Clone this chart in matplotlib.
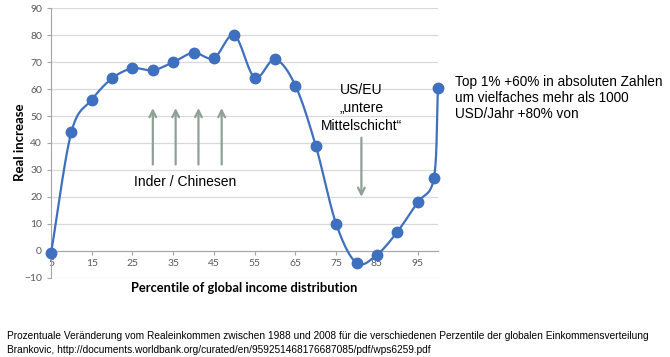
import numpy as np
import matplotlib
matplotlib.use("Agg")
import matplotlib.pyplot as plt

# percentile of global income distribution and real income increase (%)
percentiles = [5, 10, 15, 20, 25, 30, 35, 40, 45, 50, 55, 60, 65, 70, 75, 80, 85, 90, 95, 99, 100]
real_increase = [-1, 44, 56, 64, 67.7, 67, 70, 73.5, 71.5, 80, 64.3, 71, 61.3, 39, 10, -4.5, -1.5, 7, 18, 27, 60.3]

x_ticks = [5, 15, 25, 35, 45, 55, 65, 75, 85, 95]
y_ticks = list(range(-10, 100, 10))

# arrows for the annotations (x, y_start, y_end)
up_arrow_x = [30, 35.6, 41.2, 46.9]
up_arrow_y = (31, 54)
down_arrow_x = 81.2
down_arrow_y = (43, 19)

BLUE = '#3F6FBF'
ARROW = '#8FA195'
GRID = '#D9D9D9'
TICK = '#595959'


# Excel-style smoothed line (uniform Catmull-Rom between the data points)
def smoothLine(xs, ys, steps=30):
    pts = np.column_stack([xs, ys]).astype(float)
    # reflected end points -> straight-ish first and last segments
    pts = np.vstack([2 * pts[0] - pts[1], pts, 2 * pts[-1] - pts[-2]])
    out = []
    for i in range(1, len(pts) - 2):
        p0, p1, p2, p3 = pts[i - 1], pts[i], pts[i + 1], pts[i + 2]
        for t in np.linspace(0, 1, steps, endpoint=False):
            t2 = t * t
            t3 = t2 * t
            out.append(0.5 * ((2 * p1) + (-p0 + p2) * t
                              + (2 * p0 - 5 * p1 + 4 * p2 - p3) * t2
                              + (-p0 + 3 * p1 - 3 * p2 + p3) * t3))
    out.append(pts[-2])
    out = np.array(out)
    return out[:, 0], out[:, 1]


fig = plt.figure(figsize=(6.7, 3.57), dpi=100)
ax = fig.add_axes([0.0761, 0.2221, 0.5776, 0.7547])

ax.set_xlim(5, 100)
ax.set_ylim(-10, 90)
ax.set_yticks(y_ticks)
ax.set_xticks(x_ticks)
ax.yaxis.grid(True, color=GRID, lw=0.9)
ax.set_axisbelow(True)

for side in ['top', 'right']:
    ax.spines[side].set_visible(False)
ax.spines['left'].set_color('#A6A6A6')
ax.spines['bottom'].set_position(('data', 0))
ax.spines['bottom'].set_color('#A6A6A6')
ax.tick_params(axis='both', colors='#A6A6A6', length=3, width=0.8, labelsize=7.5,
               labelcolor=TICK)
ax.tick_params(axis='x', pad=3)
for lbl in ax.get_xticklabels() + ax.get_yticklabels():
    lbl.set_family('Lato')
    lbl.set_zorder(5)

sx, sy = smoothLine(percentiles, real_increase)
ax.plot(sx, sy, color=BLUE, lw=1.6, zorder=3, clip_on=False)
ax.plot(percentiles, real_increase, 'o', color=BLUE, ms=7.5, zorder=4, clip_on=False)

for xa in up_arrow_x:
    ax.annotate('', xy=(xa, up_arrow_y[1]), xytext=(xa, up_arrow_y[0]),
                arrowprops=dict(arrowstyle='->', color=ARROW, lw=1.6, mutation_scale=12))
ax.annotate('', xy=(down_arrow_x, down_arrow_y[1]), xytext=(down_arrow_x, down_arrow_y[0]),
            arrowprops=dict(arrowstyle='->', color=ARROW, lw=1.6, mutation_scale=12))

ax.text(38, 25.7, 'Inder / Chinesen', ha='center', va='center', fontsize=10,
        family='Liberation Sans')
ax.text(81.2, 62.3, 'US/EU\n\u201euntere\nMittelschicht\u201c', ha='center', va='top',
        fontsize=10, family='Liberation Sans', linespacing=1.35)

fig.text(455 / 670, 1 - 75 / 357,
         'Top 1% +60% in absoluten Zahlen\num vielfaches mehr als 1000\nUSD/Jahr +80% von',
         ha='left', va='top', fontsize=9.8, family='Liberation Sans', linespacing=1.2)

fig.text(20 / 670, 1 - 142.5 / 357, 'Real increase', rotation=90, ha='center', va='center',
         fontsize=9.5, fontweight='bold', family='Lato')
fig.text(244.5 / 670, 1 - 288 / 357, 'Percentile of global income distribution',
         ha='center', va='center', fontsize=9.3, fontweight='bold', family='Lato')

fig.text(7 / 670, 1 - 336 / 357,
         'Prozentuale Veränderung vom Realeinkommen zwischen 1988 und 2008 für die '
         'verschiedenen Perzentile der globalen Einkommensverteilung',
         ha='left', va='center', fontsize=7.3, family='Liberation Sans')
fig.text(7 / 670, 1 - 350 / 357,
         'Brankovic, http://documents.worldbank.org/curated/en/959251468176687085/pdf/wps6259.pdf',
         ha='left', va='center', fontsize=7.3, family='Liberation Sans')

fig.savefig('out.png', dpi=100)
